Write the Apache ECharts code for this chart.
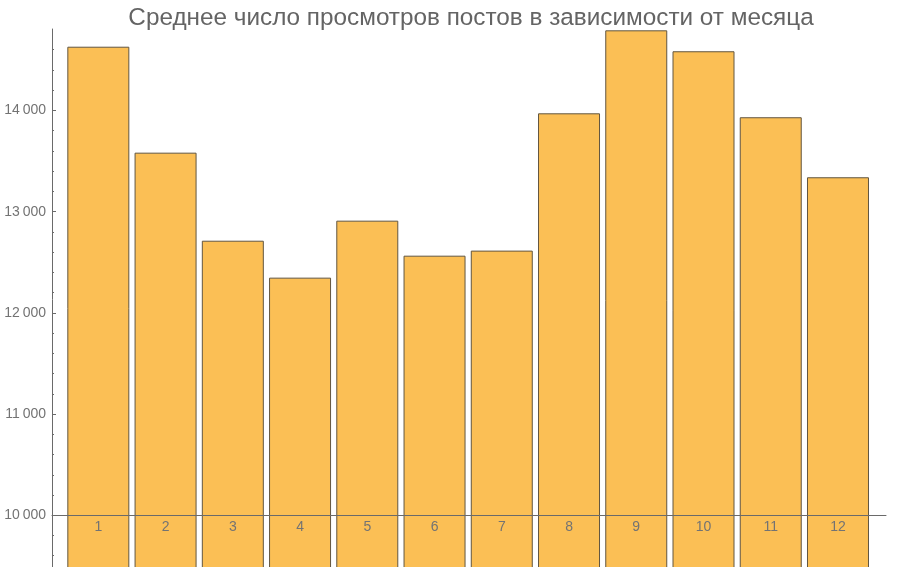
<!DOCTYPE html>
<html>
<head>
<meta charset="utf-8">
<script src="https://cdn.jsdelivr.net/npm/echarts@6/dist/echarts.min.js"></script>
<style>html,body{margin:0;padding:0;background:#fff;overflow:hidden}#c{width:903px;height:572px}</style>
</head>
<body>
<div id="c"></div>
<script>
const months = [1,2,3,4,5,6,7,8,9,10,11,12];
const views = [14630, 13583, 12713, 12348, 12911, 12565, 12615, 13972, 14792, 14585, 13933, 13340];
const majorTicks = [10000, 11000, 12000, 13000, 14000];
const minorTicks = [9600, 9800, 10200, 10400, 10600, 10800, 11200, 11400, 11600, 11800, 12200, 12400, 12600, 12800, 13200, 13400, 13600, 13800, 14200, 14400, 14600];
const titleText = 'Среднее число просмотров постов в зависимости от месяца';

const yMin = 9459, yMax = 14805;
const axisColor = '#6a6a6a';
const labelColor = '#737373';
const font = 'Liberation Sans, Arial, sans-serif';

const chart = echarts.init(document.getElementById('c'));
chart.setOption({
  animation: false,
  title: {
    text: titleText,
    left: 466, top: 1, textAlign: 'center',
    textStyle: {fontFamily: font, fontSize: 24.3, fontWeight: 'normal', color: '#646464'}
  },
  grid: {left: 52, right: 17, top: 29, bottom: 2},
  xAxis: {
    type: 'value', min: 0.311, max: 12.714, z: 10,
    position: 'bottom', offset: -55,
    axisLine: {show: true, lineStyle: {color: axisColor, width: 1}},
    axisTick: {show: false},
    splitLine: {show: false},
    axisLabel: {customValues: months, margin: 5, color: labelColor, fontFamily: font, fontSize: 14, formatter: v => String(v)}
  },
  yAxis: [{
    type: 'value', min: yMin, max: yMax, position: 'left', z: 10,
    axisLine: {show: true, lineStyle: {color: axisColor}},
    axisTick: {show: true, inside: true, length: 4, customValues: majorTicks, lineStyle: {color: axisColor}},
    splitLine: {show: false},
    axisLabel: {customValues: majorTicks, margin: 6, color: labelColor, fontFamily: font, fontSize: 14,
      formatter: v => String(v).replace(/(\d+)(\d{3})$/, '$1\u2009$2')}
  }, {
    type: 'value', min: yMin, max: yMax, position: 'left', z: 10,
    axisLine: {show: false},
    axisTick: {show: true, inside: true, length: 2, customValues: minorTicks, lineStyle: {color: axisColor}},
    splitLine: {show: false},
    axisLabel: {show: false}
  }],
  series: [{
    type: 'bar',
    data: months.map((m, i) => [m, views[i]]),
    barWidth: 62,
    itemStyle: {color: '#FBBF55', borderColor: '#625640', borderWidth: 1},
    clip: true
  }]
});
</script>
</body>
</html>
